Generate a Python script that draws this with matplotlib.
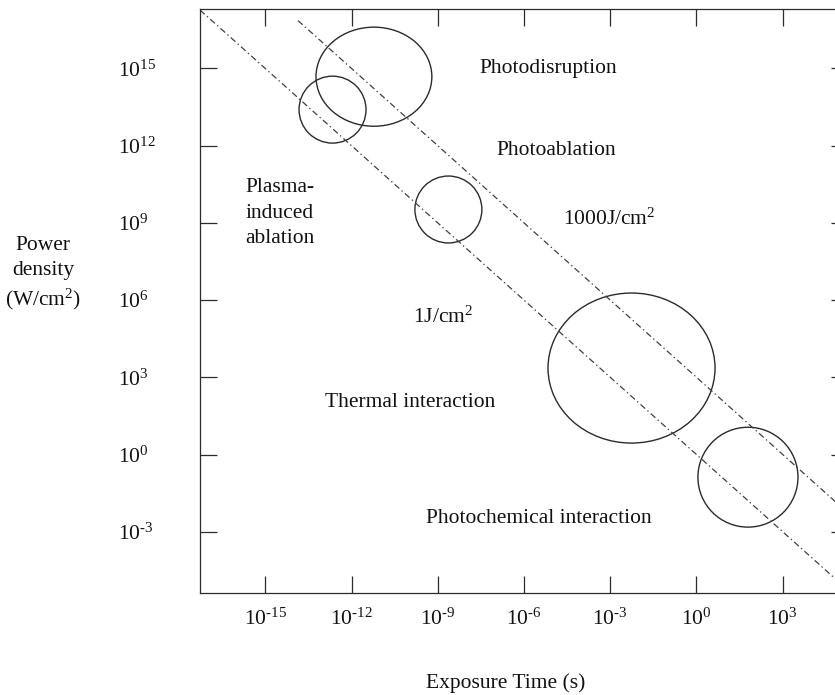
import matplotlib
matplotlib.use("Agg")
import matplotlib.pyplot as plt
from matplotlib.patches import Ellipse
import numpy as np

plt.rcParams["font.family"] = ["Liberation Serif", "DejaVu Serif"]
plt.rcParams["mathtext.fontset"] = "custom"
plt.rcParams["mathtext.rm"] = "Liberation Serif"
plt.rcParams["mathtext.it"] = "Liberation Serif:italic"
plt.rcParams["lines.scale_dashes"] = False

# Axis decades (log10 of exposure time in s, log10 of power density in W/cm^2)
time_ticks = [-15, -12, -9, -6, -3, 0, 3]
power_ticks = [15, 12, 9, 6, 3, 0, -3]

# Interaction regions: centre (log10 t, log10 P) and extent in decades
region_t = [-11.22, -12.66, -8.63, -2.26, 1.79]
region_p = [14.68, 13.40, 9.52, 3.36, -0.88]
region_dt = [4.03, 2.33, 2.33, 5.81, 3.48]
region_dp = [3.85, 2.60, 2.60, 5.83, 3.88]

# Constant-fluence lines (J/cm^2) and the exposure where each one starts
fluences = [1, 1000]
fluence_start_t = [-17.27, -13.86]

XLIM = (-17.27, 5.27)
YLIM = (-5.38, 17.31)


def pow_label(v):
    # short hyphen for negative exponents, as in typeset tables
    s = str(v).replace("-", "\u2010")
    return f"$10^{{{s}}}$"


W, H = 835, 695
fig = plt.figure(figsize=(W / 100, H / 100), dpi=100)
ax = fig.add_axes([200 / W, 1 - 593 / H, 648 / W, 584 / H])
ax.set_xlim(*XLIM)
ax.set_ylim(*YLIM)

ink = "#2b2b2b"
for s in ax.spines.values():
    s.set_linewidth(0.9)
    s.set_color(ink)

# fluence lines: log10 P = log10 F - log10 t
for F, t0 in zip(fluences, fluence_start_t):
    t = np.array([t0, XLIM[1] + 1])
    ax.plot(t, np.log10(F) - t, color="#404040", lw=0.9,
            linestyle=(0, (4.5, 2.2, 1.0, 2.2)), clip_on=True)

for t, p, dt, dp in zip(region_t, region_p, region_dt, region_dp):
    ax.add_patch(Ellipse((t, p), dt, dp, fill=False, edgecolor=ink, lw=1.0))

fs = 15.5
ax.set_xticks(time_ticks)
ax.set_xticklabels([pow_label(v) for v in time_ticks])
ax.set_yticks(power_ticks)
ax.set_yticklabels([pow_label(v) for v in power_ticks])
ax.tick_params(direction="in", length=12, width=0.9, color=ink,
               top=True, right=True, labelsize=fs, labelcolor="#111111")
ax.tick_params(axis="x", pad=11)
ax.tick_params(axis="y", pad=59)
for lab in ax.get_yticklabels():
    lab.set_horizontalalignment("left")

txt = dict(fontsize=fs, color="#111111", ha="center", va="baseline")
ax.text(-5.17, 14.82, "Photodisruption", **txt)
ax.text(-4.89, 11.63, "Photoablation", **txt)
ax.text(-15.70, 8.20, "Plasma-\ninduced\nablation", fontsize=fs, color="#111111",
        ha="left", va="baseline", linespacing=1.47)
ax.text(-3.04, 8.91, "1000J/cm$^2$", **txt)
ax.text(-8.83, 5.11, "1J/cm$^2$", **txt)
ax.text(-9.96, 1.85, "Thermal interaction", **txt)
ax.text(-5.50, -2.66, "Photochemical interaction", **txt)

fig.text(43 / W, 1 - 274 / H, "Power\ndensity\n(W/cm$^2$)", fontsize=fs,
         color="#111111", ha="center", va="center", linespacing=1.38)
fig.text(506 / W, 1 - 683 / H, "Exposure Time (s)", fontsize=fs,
         color="#111111", ha="center", va="center")

fig.savefig("out.png", dpi=100)
